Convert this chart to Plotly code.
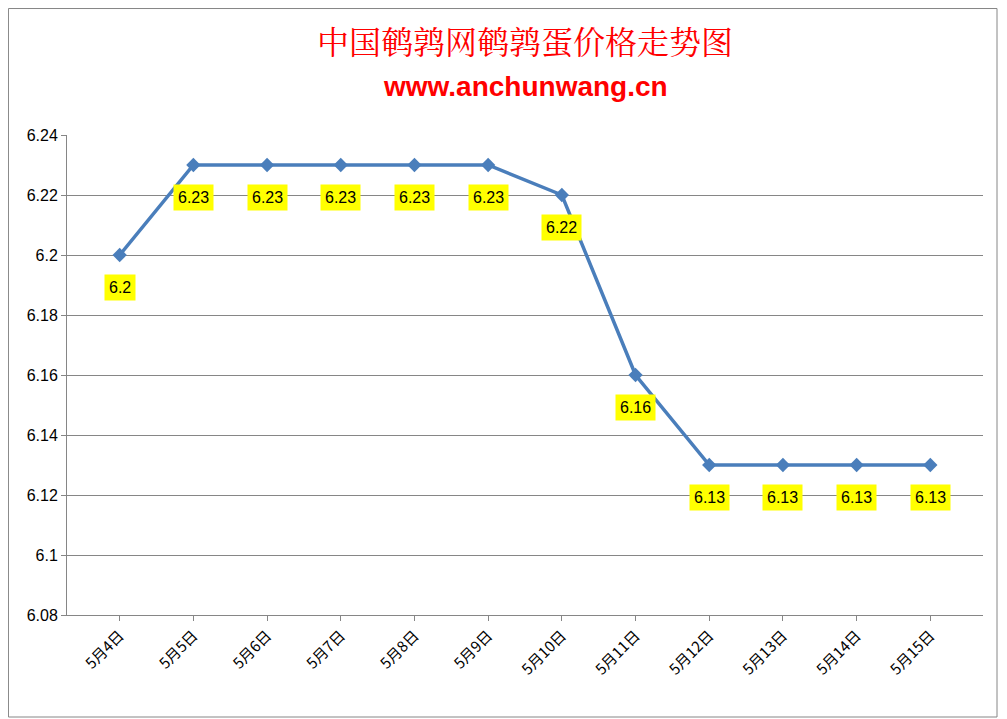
import plotly.graph_objects as go

dates = ["5月4日","5月5日","5月6日","5月7日","5月8日","5月9日","5月10日","5月11日","5月12日","5月13日","5月14日","5月15日"]
prices = [6.2,6.23,6.23,6.23,6.23,6.23,6.22,6.16,6.13,6.13,6.13,6.13]
labels = ["6.2","6.23","6.23","6.23","6.23","6.23","6.22","6.16","6.13","6.13","6.13","6.13"]

fig = go.Figure(go.Scatter(x=dates, y=prices, mode="lines+markers",
    line=dict(color="#4a7ebb", width=3.5),
    marker=dict(symbol="diamond", size=11, color="#4a7ebb")))

for d, p, t in zip(dates, prices, labels):
    fig.add_annotation(x=d, y=p, text=t, showarrow=False, yshift=-32,
        bgcolor="#ffff00", font=dict(family="Liberation Sans, Arial", size=16, color="black"), borderpad=4)

fig.add_annotation(x=0.5, y=1.198, xref="paper", yref="paper", yanchor="middle", xanchor="center",
    text="中国鹌鹑网鹌鹑蛋价格走势图", showarrow=False,
    font=dict(family="Noto Serif CJK SC, Noto Sans CJK SC", size=32, color="#ff0000"))
fig.add_annotation(x=0.5, y=1.1, xref="paper", yref="paper", yanchor="middle", xanchor="center",
    text="<b>www.anchunwang.cn</b>", showarrow=False,
    font=dict(family="Liberation Sans, Arial", size=28, color="#ff0000"))

fig.update_layout(
    width=999, height=711, paper_bgcolor="white", plot_bgcolor="white",
    margin=dict(l=59, r=24, t=127, b=104), showlegend=False,
    xaxis=dict(type="category", tickangle=-45, showline=True, linecolor="#868686",
               tickfont=dict(family="Noto Sans CJK SC", size=15, color="black"),
               ticks="outside", ticklen=5, tickcolor="#868686"),
    yaxis=dict(range=[6.08, 6.24], tickvals=[6.08,6.1,6.12,6.14,6.16,6.18,6.2,6.22,6.24],
               ticktext=["6.08","6.1","6.12","6.14","6.16","6.18","6.2","6.22","6.24"],
               showgrid=True, gridcolor="#868686", gridwidth=1, showline=True, linecolor="#868686",
               ticks="outside", ticklen=5, tickcolor="#868686",
               tickfont=dict(family="Liberation Sans, Arial", size=16, color="black")),
)
fig.add_shape(type="rect", xref="paper", yref="paper", x0=-0.0639, x1=1.0153, y0=-0.2125, y1=1.2635,
              line=dict(color="#868686", width=1))
fig.write_html("out.html")
